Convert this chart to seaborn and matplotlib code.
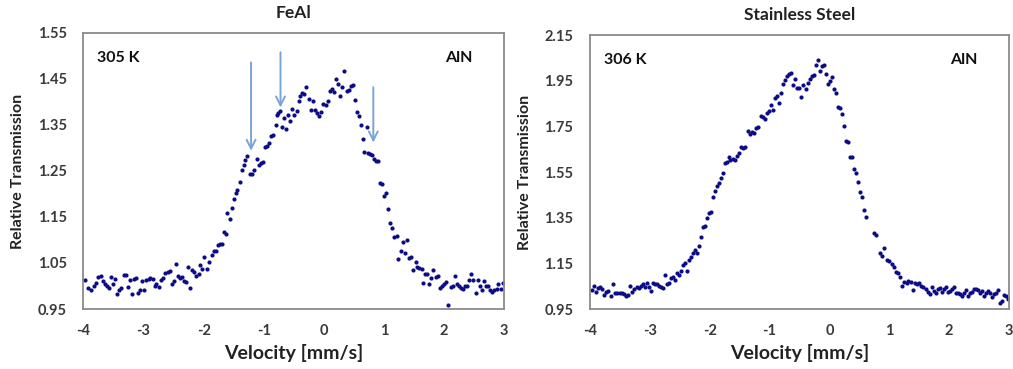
import numpy as np
import pandas as pd
import matplotlib
matplotlib.use("Agg")
import matplotlib.pyplot as plt
import seaborn as sns

# ---------------- data ----------------
feal_velocity = [
    -3.970, -3.917, -3.878, -3.833, -3.789, -3.750, -3.711, -3.678, -3.639, -3.611,
    -3.572, -3.544, -3.511, -3.472, -3.444, -3.406, -3.372, -3.333, -3.294, -3.261,
    -3.222, -3.189, -3.167, -3.128, -3.094, -3.056, -3.022, -2.989, -2.956, -2.917,
    -2.889, -2.850, -2.817, -2.789, -2.750, -2.711, -2.678, -2.639, -2.600, -2.567,
    -2.533, -2.500, -2.461, -2.428, -2.389, -2.356, -2.322, -2.289, -2.256, -2.222,
    -2.189, -2.156, -2.122, -2.083, -2.056, -2.028, -1.989, -1.944, -1.911, -1.867,
    -1.833, -1.800, -1.767, -1.733, -1.700, -1.664, -1.631,
    -1.608, -1.564, -1.531, -1.497, -1.464, -1.442, -1.397, -1.358, -1.331, -1.308,
    -1.275, -1.231, -1.197, -1.164, -1.114, -1.075, -1.042, -1.008, -0.981, -0.953,
    -0.919, -0.881, -0.842, -0.803, -0.786, -0.758, -0.731, -0.697, -0.664, -0.631,
    -0.597, -0.564, -0.531, -0.497, -0.453, -0.419, -0.397, -0.364, -0.331, -0.297,
    -0.253, -0.219, -0.186, -0.142, -0.108, -0.075, -0.042, -0.008, 0.036, 0.075,
    0.103, 0.136, 0.169, 0.203, 0.236, 0.269, 0.303, 0.336, 0.381, 0.414,
    0.447, 0.481, 0.514, 0.547, 0.581, 0.614, 0.647,
    0.675, 0.718, 0.742, 0.775, 0.808, 0.842, 0.872, 0.908,
    0.936, 0.969, 1.008, 1.036, 1.075, 1.103, 1.136, 1.175, 1.214, 1.242,
    1.280, 1.314, 1.347, 1.391, 1.425, 1.458, 1.492, 1.530, 1.558, 1.592,
    1.630, 1.658, 1.692, 1.725, 1.758, 1.792, 1.825, 1.864, 1.903, 1.936,
    1.969, 2.008, 2.036, 2.075, 2.114, 2.147, 2.180, 2.214, 2.253, 2.280,
    2.314, 2.353, 2.392, 2.425, 2.458, 2.492, 2.536, 2.569, 2.603, 2.636,
    2.669, 2.703, 2.736, 2.769, 2.803, 2.836, 2.881, 2.908, 2.947, 2.981,
]
feal_transmission = [
    1.014, 0.996, 0.992, 1.001, 1.007, 1.020, 1.022, 1.011, 1.005, 1.001,
    0.996, 1.020, 1.004, 1.016, 0.982, 0.991, 0.996, 1.023, 1.023, 0.998,
    1.014, 0.983, 1.016, 1.018, 0.985, 0.992, 1.011, 0.991, 1.014, 1.016,
    1.018, 1.016, 0.999, 1.004, 0.998, 1.014, 1.018, 1.028, 1.030, 1.033,
    1.005, 1.011, 1.047, 1.021, 1.018, 1.020, 1.011, 1.009, 1.041, 0.996,
    1.034, 1.030, 1.021, 1.025, 1.045, 1.038, 1.063, 1.038, 1.052, 1.067,
    1.076, 1.076, 1.090, 1.091, 1.091, 1.117, 1.112,
    1.159, 1.146, 1.170, 1.190, 1.202, 1.209, 1.226, 1.253, 1.262, 1.273,
    1.282, 1.244, 1.244, 1.253, 1.275, 1.264, 1.267, 1.270, 1.302, 1.304,
    1.311, 1.325, 1.328, 1.349, 1.371, 1.376, 1.380, 1.346, 1.366, 1.342,
    1.371, 1.359, 1.384, 1.371, 1.380, 1.402, 1.412, 1.420, 1.418, 1.433,
    1.407, 1.382, 1.402, 1.382, 1.377, 1.369, 1.378, 1.396, 1.393, 1.402,
    1.424, 1.429, 1.422, 1.451, 1.440, 1.412, 1.433, 1.467, 1.424, 1.427,
    1.434, 1.437, 1.404, 1.378, 1.370, 1.351, 1.320,
    1.292, 1.346, 1.290, 1.288, 1.285, 1.276, 1.272, 1.272,
    1.224, 1.221, 1.195, 1.203, 1.168, 1.137, 1.125, 1.107, 1.109, 1.059,
    1.076, 1.096, 1.072, 1.099, 1.060, 1.063, 1.034, 1.052, 1.041, 1.040,
    1.037, 1.007, 1.027, 1.025, 1.004, 1.017, 1.034, 1.020, 1.021, 0.996,
    1.001, 1.004, 1.008, 0.958, 0.998, 1.001, 1.021, 1.005, 1.001, 0.996,
    0.994, 0.999, 0.999, 1.012, 1.027, 1.014, 0.985, 1.012, 0.999, 0.992,
    1.011, 0.999, 0.999, 0.992, 0.987, 0.992, 0.994, 1.005, 0.994, 1.007,
]

steel_velocity = [
    -3.972, -3.939, -3.906, -3.872, -3.839, -3.806, -3.761, -3.728, -3.694, -3.656,
    -3.617, -3.583, -3.544, -3.506, -3.472, -3.433, -3.394, -3.361, -3.328, -3.294,
    -3.261, -3.222, -3.183, -3.150, -3.117, -3.083, -3.050, -3.017, -2.983, -2.950,
    -2.917, -2.883, -2.850, -2.817, -2.783, -2.750, -2.717, -2.683, -2.650, -2.617,
    -2.583, -2.550, -2.517, -2.483, -2.450, -2.417, -2.383, -2.350, -2.317, -2.283,
    -2.250, -2.217, -2.183, -2.150, -2.117, -2.083, -2.050, -2.017, -1.983, -1.950,
    -1.917, -1.883, -1.850, -1.817, -1.783, -1.750, -1.717, -1.683,
    -1.656, -1.617, -1.583, -1.544, -1.517, -1.472, -1.439, -1.406, -1.361, -1.328,
    -1.294, -1.261, -1.228, -1.194, -1.150, -1.117, -1.083, -1.050, -1.017, -0.978,
    -0.939, -0.906, -0.872, -0.839, -0.806, -0.772, -0.739, -0.706, -0.672, -0.639,
    -0.606, -0.572, -0.539, -0.506, -0.472, -0.439, -0.394, -0.361, -0.328, -0.294,
    -0.261, -0.228, -0.194, -0.161, -0.128, -0.094, -0.061, -0.028, 0.006, 0.039,
    0.072, 0.106, 0.139, 0.172, 0.206, 0.239, 0.272, 0.306, 0.339, 0.372,
    0.406, 0.439, 0.472, 0.506, 0.539, 0.572, 0.606,
    0.750, 0.778, 0.844, 0.883, 0.917, 0.956, 0.994, 1.039, 1.072, 1.106,
    1.139, 1.178, 1.217, 1.250, 1.289, 1.317, 1.356, 1.389, 1.428, 1.461,
    1.494, 1.528, 1.567, 1.606, 1.639, 1.678, 1.706, 1.739, 1.772, 1.817,
    1.850, 1.883, 1.917, 1.950, 1.983, 2.017, 2.050, 2.083, 2.117, 2.150,
    2.183, 2.217, 2.250, 2.283, 2.317, 2.350, 2.383, 2.417, 2.450, 2.483,
    2.517, 2.550, 2.583, 2.617, 2.650, 2.683, 2.717, 2.750, 2.783, 2.817,
    2.850, 2.883, 2.917, 2.950, 2.983,
]
steel_transmission = [
    1.033, 1.050, 1.026, 1.040, 1.048, 1.036, 1.011, 1.026, 1.030, 1.008,
    1.059, 1.018, 1.021, 1.018, 1.021, 1.015, 1.008, 1.011, 1.050, 1.026,
    1.036, 1.045, 1.040, 1.050, 1.059, 1.045, 1.065, 1.048, 1.030, 1.065,
    1.059, 1.059, 1.050, 1.048, 1.040, 1.099, 1.058, 1.065, 1.084, 1.091,
    1.077, 1.109, 1.099, 1.118, 1.143, 1.150, 1.118, 1.167, 1.176, 1.197,
    1.208, 1.194, 1.226, 1.264, 1.308, 1.314, 1.347, 1.369, 1.376, 1.439,
    1.469, 1.489, 1.504, 1.523, 1.548, 1.591, 1.596, 1.615,
    1.603, 1.606, 1.603, 1.621, 1.632, 1.659, 1.654, 1.659, 1.732, 1.717,
    1.727, 1.723, 1.742, 1.746, 1.796, 1.790, 1.781, 1.811, 1.819, 1.844,
    1.822, 1.874, 1.884, 1.852, 1.895, 1.936, 1.954, 1.971, 1.980, 1.986,
    1.932, 1.957, 1.917, 1.917, 1.881, 1.932, 1.913, 1.942, 1.957, 1.971,
    1.976, 2.020, 2.042, 1.995, 2.015, 2.020, 1.980, 1.936, 1.951, 1.969,
    1.913, 1.895, 1.834, 1.830, 1.805, 1.752, 1.688, 1.683, 1.618, 1.615,
    1.562, 1.545, 1.508, 1.464, 1.439, 1.384, 1.352,
    1.284, 1.276, 1.197, 1.182, 1.216, 1.164, 1.159, 1.147, 1.132, 1.113,
    1.106, 1.091, 1.050, 1.069, 1.062, 1.074, 1.069, 1.033, 1.062, 1.059,
    1.065, 1.050, 1.045, 1.036, 1.026, 1.015, 1.045, 1.030, 1.018, 1.036,
    1.040, 1.026, 1.036, 1.045, 1.026, 1.030, 1.036, 1.045, 1.021, 1.018,
    1.015, 1.007, 1.018, 1.033, 1.007, 1.018, 1.026, 1.036, 1.036, 1.033,
    1.021, 1.030, 1.007, 1.018, 1.030, 1.018, 1.001, 1.015, 1.021, 1.033,
    0.977, 0.986, 1.011, 1.007, 0.992,
]

# arrows marking spectral features in the FeAl spectrum
arrow_velocity = [-1.21, -0.72, 0.825]
arrow_tail = [1.486, 1.508, 1.432]
arrow_tip = [1.294, 1.388, 1.312]

x_ticks = [-4, -3, -2, -1, 0, 1, 2, 3]
feal_yticks = [0.95, 1.05, 1.15, 1.25, 1.35, 1.45, 1.55]
steel_yticks = [0.95, 1.15, 1.35, 1.55, 1.75, 1.95, 2.15]

panels = [
    dict(title="FeAl", temp="305 K", absorber="AlN",
         x=feal_velocity, y=feal_transmission, yticks=feal_yticks),
    dict(title="Stainless Steel", temp="306 K", absorber="AlN",
         x=steel_velocity, y=steel_transmission, yticks=steel_yticks),
]

# ---------------- style ----------------
sns.set_style("white")
plt.rcParams["font.family"] = ["Lato", "DejaVu Sans"]
plt.rcParams["font.weight"] = "bold"

fig = plt.figure(figsize=(10.13, 3.69), dpi=100)
ax_pos = [
    [0.0824, 0.1626, 0.4151, 0.7480],
    [0.5824, 0.1626, 0.4137, 0.7417],
]

dot_color = "#0c0c86"
spine_color = "#8a8a8a"
label_color = "#3a3a3a"
arrow_color = "#7aa3d6"

for pos, p in zip(ax_pos, panels):
    ax = fig.add_axes(pos)
    df = pd.DataFrame({"Velocity": p["x"], "Transmission": p["y"]})
    sns.scatterplot(data=df, x="Velocity", y="Transmission", ax=ax,
                    color=dot_color, s=9, linewidth=0, legend=False)
    ax.set_xlim(-4, 3)
    ax.set_ylim(p["yticks"][0], p["yticks"][-1])
    ax.set_xticks(x_ticks)
    ax.set_xticklabels([str(t) for t in x_ticks])
    ax.set_yticks(p["yticks"])
    ax.set_yticklabels([f"{t:.2f}" for t in p["yticks"]])
    ax.tick_params(axis="both", direction="in", length=4, width=1,
                   color=spine_color, labelsize=10.5, labelcolor=label_color)
    ax.tick_params(axis="x", pad=11)
    ax.tick_params(axis="y", pad=12)
    for lab in ax.get_xticklabels() + ax.get_yticklabels():
        lab.set_fontweight("bold")
    for sp in ax.spines.values():
        sp.set_color(spine_color)
        sp.set_linewidth(1.3)
    ax.set_xlabel("Velocity [mm/s]", fontsize=14, fontweight="bold",
                  color="#222222", labelpad=4)
    ax.set_ylabel("Relative Transmission", fontsize=11.5, fontweight="bold",
                  color="#222222", labelpad=9)
    ax.set_title(p["title"], fontsize=12.5, fontweight="bold",
                 color="#222222", pad=11)
    ax.text(0.033, 0.91, p["temp"], transform=ax.transAxes, fontsize=11.5,
            fontweight="bold", color="#111111", ha="left", va="center")
    ax.text(0.925, 0.91, p["absorber"], transform=ax.transAxes, fontsize=11.5,
            fontweight="bold", color="#111111", ha="right", va="center")

    if p["title"] == "FeAl":
        for xv, y0, y1 in zip(arrow_velocity, arrow_tail, arrow_tip):
            ax.annotate("", xy=(xv, y1), xytext=(xv, y0),
                        arrowprops=dict(arrowstyle="->", color=arrow_color,
                                        lw=1.4, mutation_scale=16,
                                        shrinkA=0, shrinkB=0))

fig.savefig("out.png", dpi=100)
